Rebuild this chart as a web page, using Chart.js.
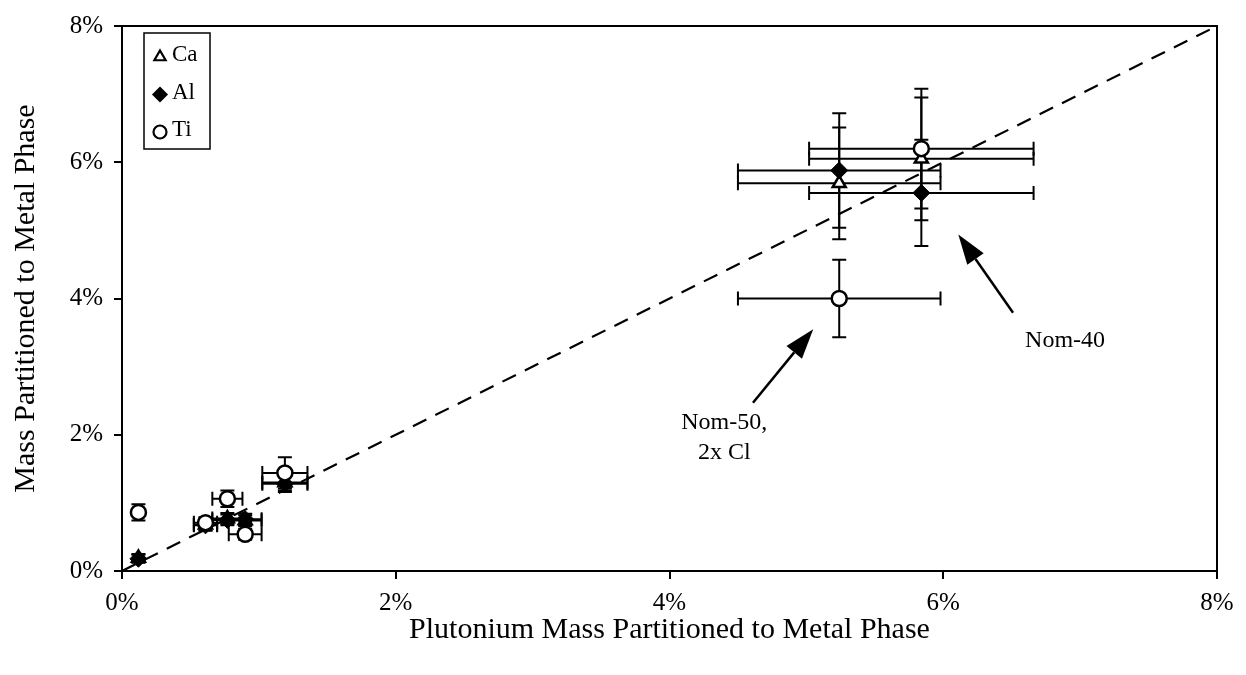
<!DOCTYPE html>
<html><head><meta charset="utf-8">
<script src="https://cdn.jsdelivr.net/npm/chart.js@4.4.0/dist/chart.umd.min.js"></script>
<style>html,body{margin:0;padding:0;background:#fff;}#wrap{width:1246px;height:675px;}</style>
</head><body><div id="wrap"><canvas id="c" width="1246" height="675"></canvas></div>
<script>
// ---- data (all values in percent) ----
const xTitle = 'Plutonium Mass Partitioned to Metal Phase';
const yTitle = 'Mass Partitioned to Metal Phase';
const tickValues = [0, 2, 4, 6, 8];
const tickLabels = ['0%', '2%', '4%', '6%', '8%'];
const seriesNames = ['Ca', 'Al', 'Ti'];          // legend order
const puX    = [0.12, 0.61, 0.77, 0.90, 1.19, 5.24, 5.84];
const puXErr = [0.00, 0.085, 0.11, 0.12, 0.165, 0.74, 0.82];
const caY    = [0.19, 0.68, 0.77, 0.74, 1.30, 5.69, 6.05];
const caYErr = [0.06, 0.08, 0.08, 0.08, 0.12, 0.82, 0.90];
const alY    = [0.18, 0.67, 0.75, 0.76, 1.28, 5.88, 5.55];
const alYErr = [0.06, 0.08, 0.08, 0.08, 0.12, 0.84, 0.78];
const tiY    = [0.86, 0.71, 1.06, 0.54, 1.44, 4.00, 6.20];
const tiYErr = [0.12, 0.08, 0.12, 0.08, 0.23, 0.57, 0.88];
const diagX  = [0, 8];
const diagY  = [0, 8];
// annotations: arrow tip / tail and text lines, in data units (%)
const annoLabels = [['Nom-50,', '2x Cl'], ['Nom-40']];
const annoTip    = [[5.05, 3.55], [6.11, 4.94]];
const annoTail   = [[4.61, 2.47], [6.51, 3.79]];
const annoText   = [[4.40, 2.18], [6.89, 3.38]];

const FONT = "'Liberation Serif', 'Times New Roman', serif";
const pts = (ys, yerr) => puX.map((x, i) => ({x: x, y: ys[i], xe: puXErr[i], ye: yerr[i]}));

const errorBars = {
  id: 'errorBars',
  beforeDatasetsDraw(chart) {
    const {ctx, scales: {x: xs, y: ys}} = chart;
    ctx.save();
    ctx.strokeStyle = '#000';
    ctx.lineWidth = 2;
    const cap = 7;
    chart.data.datasets.forEach(ds => {
      if (!ds.errorBars) return;
      ds.data.forEach(p => {
        const cx = xs.getPixelForValue(p.x), cy = ys.getPixelForValue(p.y);
        if (p.xe > 0) {
          const x1 = xs.getPixelForValue(p.x - p.xe), x2 = xs.getPixelForValue(p.x + p.xe);
          ctx.beginPath();
          ctx.moveTo(x1, cy); ctx.lineTo(x2, cy);
          ctx.moveTo(x1, cy - cap); ctx.lineTo(x1, cy + cap);
          ctx.moveTo(x2, cy - cap); ctx.lineTo(x2, cy + cap);
          ctx.stroke();
        }
        if (p.ye > 0) {
          const y1 = ys.getPixelForValue(p.y - p.ye), y2 = ys.getPixelForValue(p.y + p.ye);
          ctx.beginPath();
          ctx.moveTo(cx, y1); ctx.lineTo(cx, y2);
          ctx.moveTo(cx - cap, y1); ctx.lineTo(cx + cap, y1);
          ctx.moveTo(cx - cap, y2); ctx.lineTo(cx + cap, y2);
          ctx.stroke();
        }
      });
    });
    ctx.restore();
  }
};

const frameAndExtras = {
  id: 'frameAndExtras',
  afterDraw(chart) {
    const {ctx, chartArea: a, scales: {x: xs, y: ys}} = chart;
    ctx.save();
    // frame
    ctx.strokeStyle = '#000';
    ctx.lineWidth = 2;
    ctx.strokeRect(a.left, a.top, a.right - a.left, a.bottom - a.top);
    // legend box
    const lx = a.left + 22, ly = a.top + 7, lw = 66, lh = 116;
    ctx.lineWidth = 1.5;
    ctx.strokeRect(lx, ly, lw, lh);
    ctx.font = '23px ' + FONT;
    ctx.textBaseline = 'middle';
    ctx.textAlign = 'left';
    seriesNames.forEach((name, i) => {
      const ds = chart.data.datasets.find(d => d.label === name);
      const yy = ly + 22 + i * 37.5;
      ctx.fillStyle = ds.backgroundColor;
      ctx.strokeStyle = ds.borderColor;
      ctx.lineWidth = 2.2;
      Chart.helpers.drawPoint(ctx, {pointStyle: ds.pointStyle, rotation: 0, radius: 6.5, borderWidth: 2.2}, lx + 16, yy + 2);
      ctx.fillStyle = '#000';
      ctx.fillText(ds.label, lx + 28, yy);
    });
    // annotations
    ctx.fillStyle = '#000';
    ctx.strokeStyle = '#000';
    annoLabels.forEach((lines, k) => {
      const tx = xs.getPixelForValue(annoTip[k][0]), ty = ys.getPixelForValue(annoTip[k][1]);
      const sx = xs.getPixelForValue(annoTail[k][0]), sy = ys.getPixelForValue(annoTail[k][1]);
      const ang = Math.atan2(ty - sy, tx - sx);
      const hl = 30, hw = 10;
      const bx = tx - hl * Math.cos(ang), by = ty - hl * Math.sin(ang);
      ctx.lineWidth = 2.5;
      ctx.beginPath(); ctx.moveTo(sx, sy); ctx.lineTo(bx, by); ctx.stroke();
      ctx.beginPath();
      ctx.moveTo(tx, ty);
      ctx.lineTo(bx + hw * Math.sin(ang), by - hw * Math.cos(ang));
      ctx.lineTo(bx - hw * Math.sin(ang), by + hw * Math.cos(ang));
      ctx.closePath(); ctx.fill();
      ctx.font = '24px ' + FONT;
      ctx.textAlign = 'center';
      const cx = xs.getPixelForValue(annoText[k][0]), cy = ys.getPixelForValue(annoText[k][1]);
      lines.forEach((t, j) => ctx.fillText(t, cx, cy + j * 30));
    });
    ctx.restore();
  }
};

const axisCommon = {
  type: 'linear', min: 0, max: 8,
  grid: {display: true, drawOnChartArea: false, drawTicks: true, tickLength: 8, color: '#000', lineWidth: 2},
  border: {display: true, color: '#000', width: 2},
  ticks: {
    stepSize: 2, color: '#000', font: {family: FONT, size: 25},
    callback: v => { const i = tickValues.indexOf(v); return i >= 0 ? tickLabels[i] : ''; }
  }
};

new Chart(document.getElementById('c'), {
  type: 'scatter',
  data: {
    datasets: [
      {label: 'Ti', data: pts(tiY, tiYErr), pointStyle: 'circle', pointRadius: 7.5, pointBorderWidth: 2.5,
       backgroundColor: '#fff', borderColor: '#000', errorBars: true, order: 1},
      {label: 'Al', data: pts(alY, alYErr), pointStyle: 'rectRot', pointRadius: 8.5, pointBorderWidth: 1,
       backgroundColor: '#000', borderColor: '#000', errorBars: true, order: 2},
      {label: 'Ca', data: pts(caY, caYErr), pointStyle: 'triangle', pointRadius: 7.5, pointBorderWidth: 2.5,
       backgroundColor: '#fff', borderColor: '#000', errorBars: true, order: 3},
      {type: 'line', label: 'y = x', data: diagX.map((x, i) => ({x: x, y: diagY[i]})), showLine: true,
       borderColor: '#000', borderWidth: 2.2, borderDash: [15, 10], pointRadius: 0, fill: false, order: 4}
    ]
  },
  options: {
    responsive: false, animation: false, devicePixelRatio: 1,
    layout: {padding: {left: 0, top: 24, right: 29, bottom: 0}},
    plugins: {legend: {display: false}, tooltip: {enabled: false}},
    scales: {
      x: Object.assign({}, axisCommon, {
        position: 'bottom',
        ticks: Object.assign({}, axisCommon.ticks, {padding: 9, maxRotation: 0}),
        title: {display: true, text: xTitle, color: '#000', font: {family: FONT, size: 30}, padding: {top: 0, bottom: 27}},
        afterFit: s => { s.height = 104; }
      }),
      y: Object.assign({}, axisCommon, {
        position: 'left',
        ticks: Object.assign({}, axisCommon.ticks, {padding: 11}),
        title: {display: true, text: yTitle, color: '#000', font: {family: FONT, size: 30}, padding: {top: 8, bottom: 0}},
        afterFit: s => { s.width = 122; }
      })
    }
  },
  plugins: [errorBars, frameAndExtras]
});
</script></body></html>
